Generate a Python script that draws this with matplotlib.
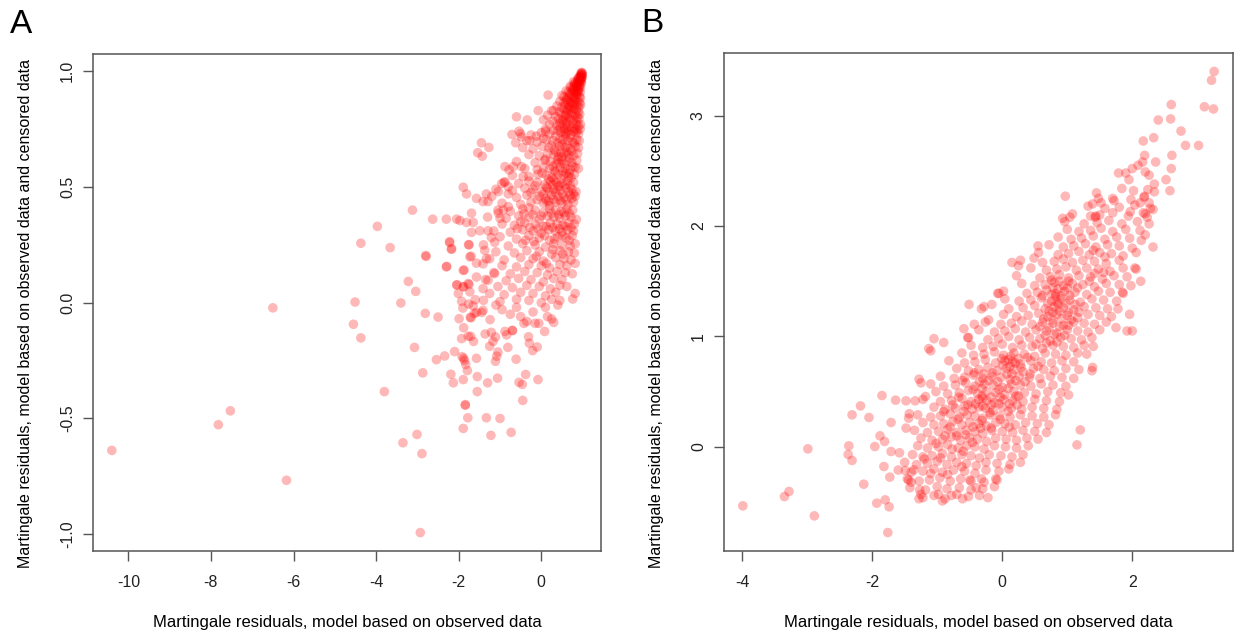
import matplotlib
matplotlib.use("Agg")
import matplotlib.pyplot as plt
import numpy as np

plt.rcParams["font.family"] = ["Liberation Sans", "DejaVu Sans"]
plt.rcParams["axes.unicode_minus"] = False

# ---- Panel A: censored vs observed-only martingale residuals ----
# isolated points on the left / bottom
a_sparse = [
    (-10.40, -0.638), (-7.82, -0.527), (-7.53, -0.467), (-6.50, -0.022), (-6.17, -0.767),
    (-4.51, 0.003), (-4.55, -0.093), (-4.37, -0.152), (-4.37, 0.257), (-3.66, 0.238),
    (-3.97, 0.330), (-3.12, 0.400), (-2.80, 0.204), (-3.22, 0.092), (-3.04, 0.049),
    (-3.40, -0.001), (-2.81, -0.046), (-2.50, -0.062), (-3.07, -0.193), (-2.29, 0.157),
    (-2.54, -0.246), (-2.34, -0.230), (-2.87, -0.303), (-3.80, -0.384), (-3.01, -0.569),
    (-3.35, -0.605), (-2.89, -0.652), (-2.93, -0.993), (-2.19, -0.309), (-2.13, -0.346),
    (-2.10, -0.211), (-1.89, -0.332), (-1.84, -0.443), (-1.84, -0.440), (-1.78, -0.497),
    (-1.89, -0.543), (-1.88, -0.240), (-1.79, -0.293), (-1.83, -0.267), (-1.93, 0.006),
    (-1.90, -0.023), (-1.99, -0.069), (-1.88, -0.108), (-1.93, -0.155), (-1.71, -0.145),
    (-1.64, -0.167), (-1.76, -0.006), (-1.70, -0.065), (-2.04, 0.078), (-1.88, 0.069),
    (-1.75, 0.079), (-1.87, 0.141), (-1.70, 0.201), (-2.17, 0.233), (-2.22, 0.260),
    (-1.76, 0.251), (-1.60, 0.013), (-1.62, -0.046), (-1.57, -0.240), (-1.55, -0.319),
    (-1.55, -0.384), (-1.57, 0.171),
    (-2.63, 0.361), (-2.30, 0.361), (-2.05, 0.361), (-1.97, 0.355), (-1.69, 0.387),
    (-1.81, 0.347), (-1.65, 0.347), (-1.49, 0.311), (-1.69, 0.304), (-2.79, 0.200),
    (-2.22, 0.264), (-2.18, 0.231), (-1.75, 0.250), (-1.29, 0.311), (-1.21, 0.282),
    (-1.13, 0.261), (-1.04, 0.387), (-1.00, 0.365), (-0.92, 0.401), (-0.80, 0.415),
    (-2.30, 0.155), (-1.89, 0.140), (-1.73, 0.198), (-1.37, 0.226), (-1.33, 0.190),
    (-1.41, 0.168), (-1.57, 0.111), (-1.29, 0.097), (-1.13, 0.126), (-2.05, 0.076),
    (-1.89, 0.069), (-1.77, 0.083), (-2.01, 0.040), (-1.73, 0.047), (-1.41, 0.061),
    (-1.45, 0.691), (-1.27, 0.671), (-1.54, 0.648), (-1.43, 0.633), (-0.71, 0.727),
    (-0.54, 0.741), (-0.48, 0.716), (-0.62, 0.691), (-0.28, 0.700), (-0.12, 0.720),
    (-0.88, 0.588), (-0.78, 0.574), (-0.68, 0.588), (-0.48, 0.588), (-0.44, 0.545),
    (-1.89, 0.499), (-1.81, 0.470), (-1.57, 0.451), (-1.33, 0.470), (-1.29, 0.437),
    (-1.41, 0.437), (-1.04, 0.480), (-0.96, 0.515), (-0.88, 0.522), (-0.80, 0.501),
    (0.165, 0.897), (-0.60, 0.803), (-0.34, 0.790), (-0.075, 0.830),
]

# negative residuals near the main cloud
a_neg = [
    (-1.92, -0.233), (-1.86, -0.250), (-1.33, -0.497), (-1.00, -0.500), (-1.22, -0.573),
    (-0.73, -0.560), (-1.30, -0.346), (-1.06, -0.326), (-0.54, -0.344), (-0.46, -0.353),
    (-0.38, -0.310), (-0.08, -0.332), (-0.45, -0.422), (-0.61, -0.244), (-0.21, -0.207),
    (-0.10, -0.191), (-0.29, -0.175), (-0.31, -0.147), (0.08, -0.124), (-0.81, -0.193),
    (-1.11, -0.253), (-1.08, -0.231), (-1.05, -0.213), (-1.25, -0.188), (-1.17, -0.167),
    (-1.11, -0.148), (-1.21, -0.128), (-1.36, -0.135), (-1.77, -0.145), (-1.72, -0.063),
    (-1.24, -0.073), (-0.88, -0.124), (-0.70, -0.119), (-0.70, -0.121), (-0.84, -0.139),
    (-0.42, -0.089), (-0.35, -0.081), (-0.15, -0.089), (-0.06, -0.089), (0.30, -0.085),
    (0.25, -0.070), (0.76, 0.016), (-1.65, -0.013), (-1.57, -0.042), (-1.44, -0.042),
    (-1.41, -0.033), (-0.95, -0.030), (-0.60, -0.020), (-0.20, -0.040), (0.10, -0.020),
    (0.40, -0.010), (-1.10, -0.010), (-0.75, -0.050), (0.15, -0.060), (-0.50, -0.060),
]

# lower part of the main cloud, 0 < y < 0.3
a_low = [
    (-1.00, 0.285), (-0.60, 0.275), (-0.30, 0.29), (-0.05, 0.28), (0.20, 0.27), (0.40, 0.285),
    (0.60, 0.28), (0.75, 0.29), (-1.40, 0.25), (-0.80, 0.245), (-0.45, 0.255), (-0.15, 0.25),
    (0.10, 0.24), (0.30, 0.255), (0.50, 0.25), (0.70, 0.245), (0.82, 0.255), (-1.10, 0.22),
    (-0.65, 0.215), (-0.35, 0.225), (-0.05, 0.22), (0.25, 0.21), (0.45, 0.225), (0.66, 0.22),
    (0.80, 0.215), (-1.25, 0.19), (-0.90, 0.185), (-0.50, 0.195), (-0.20, 0.19), (0.05, 0.18),
    (0.35, 0.195), (0.55, 0.19), (0.72, 0.185), (-0.95, 0.16), (-0.60, 0.155), (-0.30, 0.165),
    (0.00, 0.16), (0.20, 0.15), (0.45, 0.165), (0.62, 0.16), (0.82, 0.17), (-1.15, 0.13),
    (-0.75, 0.125), (-0.40, 0.135), (-0.10, 0.13), (0.15, 0.12), (0.38, 0.135), (0.58, 0.13),
    (0.75, 0.125), (-1.35, 0.10), (-0.85, 0.095), (-0.55, 0.105), (-0.25, 0.10), (0.05, 0.09),
    (0.30, 0.105), (0.50, 0.10), (-1.05, 0.07), (-0.70, 0.065), (-0.35, 0.075), (-0.05, 0.07),
    (0.22, 0.06), (0.45, 0.075), (0.62, 0.07), (-1.25, 0.04), (-0.90, 0.035), (-0.50, 0.045),
    (-0.20, 0.04), (0.10, 0.03), (0.35, 0.045), (0.82, 0.04), (-1.40, 0.01), (-1.00, 0.005),
    (-0.60, 0.015), (-0.30, 0.01), (0.00, 0.00), (0.25, 0.015), (0.45, 0.01),
]

# middle of the cloud, 0.3 < y < 0.56
a_mid = [
    (-1.15, 0.31), (-0.75, 0.305), (-0.45, 0.315), (-0.20, 0.31), (0.00, 0.30), (0.18, 0.315),
    (0.34, 0.31), (0.50, 0.305), (0.64, 0.315), (0.78, 0.31), (-0.95, 0.34), (-0.65, 0.335),
    (-0.40, 0.345), (-0.15, 0.34), (0.05, 0.33), (0.22, 0.345), (0.38, 0.34), (0.52, 0.335),
    (0.66, 0.345), (0.80, 0.34), (-0.50, 0.35), (-1.30, 0.37), (-0.85, 0.365), (-0.55, 0.375),
    (-0.30, 0.37), (-0.05, 0.36), (0.15, 0.375), (0.30, 0.37), (0.45, 0.365), (0.58, 0.375),
    (0.72, 0.37), (0.85, 0.36), (-1.05, 0.40), (-0.75, 0.395), (-0.45, 0.405), (-0.15, 0.40),
    (0.05, 0.39), (0.20, 0.405), (0.35, 0.40), (0.48, 0.395), (0.62, 0.405), (0.76, 0.40),
    (-0.30, 0.41), (-0.95, 0.43), (-0.50, 0.425), (-0.25, 0.435), (0.05, 0.43), (0.20, 0.42),
    (0.35, 0.435), (0.50, 0.43), (0.65, 0.425), (0.78, 0.435), (0.12, 0.44), (-1.20, 0.46),
    (-0.60, 0.455), (-0.35, 0.465), (-0.05, 0.46), (0.10, 0.45), (0.25, 0.465), (0.40, 0.46),
    (0.55, 0.455), (0.70, 0.465), (0.82, 0.46), (-0.80, 0.47), (-1.10, 0.49), (-0.70, 0.485),
    (-0.40, 0.495), (-0.20, 0.49), (0.00, 0.48), (0.15, 0.495), (0.30, 0.49), (0.45, 0.485),
    (0.60, 0.495), (0.74, 0.49), (0.84, 0.48), (0.40, 0.50), (-0.90, 0.52), (-0.55, 0.515),
    (-0.30, 0.525), (-0.10, 0.52), (0.08, 0.51), (0.22, 0.525), (0.36, 0.52), (0.50, 0.515),
    (0.64, 0.525), (0.78, 0.52), (0.30, 0.53), (-0.70, 0.55), (-0.30, 0.545), (-0.08, 0.555),
    (0.12, 0.55), (0.26, 0.54), (0.40, 0.555), (0.54, 0.55), (0.66, 0.545), (0.80, 0.555),
    (0.02, 0.56), (0.60, 0.56),
]

# extra observations filling the darker band of the cloud
a_dense = [
    (-0.12, 0.20), (0.12, 0.17), (0.28, 0.23), (0.52, 0.21), (-0.38, 0.27), (-0.18, 0.265),
    (0.08, 0.29), (0.32, 0.275), (0.52, 0.29), (0.68, 0.27), (-0.58, 0.32), (-0.28, 0.325),
    (-0.08, 0.32), (0.12, 0.33), (0.28, 0.325), (0.44, 0.32), (0.58, 0.33), (0.72, 0.325),
    (-0.42, 0.385), (-0.20, 0.38), (0.00, 0.375), (0.25, 0.385), (0.42, 0.38), (0.55, 0.39),
    (0.68, 0.385), (-0.10, 0.445), (0.18, 0.44), (0.30, 0.445), (0.46, 0.44), (0.60, 0.445),
    (0.74, 0.45), (-0.25, 0.475), (0.05, 0.47), (0.20, 0.48), (0.35, 0.475), (0.52, 0.47),
    (0.66, 0.48), (0.78, 0.47), (-0.15, 0.505), (0.12, 0.50), (0.28, 0.51), (0.44, 0.505),
    (0.58, 0.51), (0.70, 0.505), (0.18, 0.535), (0.48, 0.535), (0.72, 0.54), (0.34, 0.565),
    (0.52, 0.57), (0.68, 0.56), (0.76, 0.59), (0.56, 0.60), (0.42, 0.605), (0.68, 0.625),
    (0.50, 0.63), (0.36, 0.65), (0.74, 0.655), (0.62, 0.68), (0.50, 0.685), (0.80, 0.69),
    (0.70, 0.715), (0.58, 0.72), (0.40, 0.745), (0.78, 0.74),
]

# upper part, 0.56 < y < 0.75
a_upper = [
    (-0.40, 0.58), (-0.10, 0.575), (0.05, 0.585), (0.20, 0.58), (0.32, 0.57), (0.46, 0.585),
    (0.58, 0.58), (0.70, 0.575), (0.82, 0.585), (0.28, 0.59), (0.90, 0.58), (-0.60, 0.61),
    (-0.15, 0.605), (0.08, 0.615), (0.22, 0.61), (0.36, 0.60), (0.50, 0.615), (0.62, 0.61),
    (0.74, 0.605), (0.86, 0.615), (0.10, 0.62), (0.40, 0.62), (-0.30, 0.64), (-0.05, 0.635),
    (0.15, 0.645), (0.30, 0.64), (0.42, 0.63), (0.55, 0.645), (0.66, 0.64), (0.78, 0.635),
    (0.88, 0.645), (0.48, 0.65), (0.62, 0.65), (-0.45, 0.67), (-0.20, 0.665), (0.02, 0.675),
    (0.18, 0.67), (0.32, 0.66), (0.44, 0.675), (0.58, 0.67), (0.70, 0.665), (0.82, 0.675),
    (0.90, 0.67), (0.25, 0.68), (-0.35, 0.70), (-0.10, 0.695), (0.12, 0.705), (0.28, 0.70),
    (0.40, 0.69), (0.52, 0.705), (0.64, 0.70), (0.76, 0.695), (0.86, 0.705), (0.92, 0.70),
    (0.45, 0.71), (0.05, 0.71), (-0.50, 0.73), (-0.25, 0.725), (0.00, 0.735), (0.20, 0.73),
    (0.35, 0.72), (0.48, 0.735), (0.60, 0.73), (0.72, 0.725), (0.84, 0.735), (0.90, 0.73),
    (0.10, 0.74), (0.55, 0.74),
]

# dense wedge towards (1, 1)
a_core = [
    (0.97, 0.995), (0.98, 0.99), (0.99, 0.993), (0.99, 0.985), (0.98, 0.98), (0.96, 0.99),
    (0.97, 0.985), (0.99, 0.975), (0.95, 0.98),
    (0.90, 0.97), (0.92, 0.965), (0.94, 0.975), (0.96, 0.97), (0.97, 0.96), (0.93, 0.96),
    (0.95, 0.965), (0.98, 0.97), (0.91, 0.975), (0.88, 0.965),
    (0.82, 0.95), (0.85, 0.945), (0.88, 0.955), (0.90, 0.95), (0.93, 0.94), (0.95, 0.955),
    (0.97, 0.95), (0.87, 0.94), (0.91, 0.955), (0.80, 0.945), (0.78, 0.955),
    (0.72, 0.93), (0.76, 0.925), (0.80, 0.935), (0.84, 0.93), (0.88, 0.92), (0.92, 0.935),
    (0.95, 0.93), (0.86, 0.935), (0.90, 0.925), (0.70, 0.935), (0.78, 0.92),
    (0.65, 0.91), (0.70, 0.905), (0.75, 0.915), (0.80, 0.91), (0.85, 0.90), (0.90, 0.915),
    (0.94, 0.91), (0.83, 0.905), (0.60, 0.915), (0.88, 0.91),
    (0.55, 0.89), (0.62, 0.885), (0.68, 0.895), (0.74, 0.89), (0.80, 0.88), (0.86, 0.895),
    (0.92, 0.89), (0.78, 0.885), (0.50, 0.895), (0.95, 0.885),
    (0.45, 0.87), (0.55, 0.865), (0.64, 0.875), (0.70, 0.87), (0.76, 0.86), (0.82, 0.875),
    (0.88, 0.87), (0.93, 0.865), (0.60, 0.875), (0.72, 0.865),
    (0.38, 0.85), (0.50, 0.845), (0.58, 0.855), (0.66, 0.85), (0.74, 0.84), (0.80, 0.855),
    (0.86, 0.85), (0.91, 0.845), (0.95, 0.855), (0.69, 0.845),
    (0.30, 0.83), (0.44, 0.825), (0.55, 0.835), (0.62, 0.83), (0.70, 0.82), (0.78, 0.835),
    (0.84, 0.83), (0.90, 0.825), (0.65, 0.835), (0.25, 0.83),
    (0.15, 0.81), (0.35, 0.805), (0.48, 0.815), (0.58, 0.81), (0.66, 0.80), (0.74, 0.815),
    (0.82, 0.81), (0.88, 0.805), (0.93, 0.815), (0.60, 0.81),
    (0.05, 0.79), (0.28, 0.785), (0.42, 0.795), (0.52, 0.79), (0.62, 0.78), (0.70, 0.795),
    (0.78, 0.79), (0.86, 0.785), (0.91, 0.795), (0.55, 0.79),
    (0.20, 0.77), (0.38, 0.765), (0.50, 0.775), (0.60, 0.77), (0.68, 0.76), (0.76, 0.775),
    (0.84, 0.77), (0.90, 0.765), (0.45, 0.775), (0.95, 0.77),
    (0.10, 0.75), (0.30, 0.745), (0.45, 0.755), (0.56, 0.75), (0.65, 0.74), (0.74, 0.755),
    (0.82, 0.75), (0.88, 0.745), (0.62, 0.755), (0.94, 0.75),
]

# ---- Panel B: uncensored-model residuals ----
b_sparse = [
    (-3.99, -0.534), (-3.35, -0.450), (-3.28, -0.404), (-2.89, -0.625), (-2.99, -0.018),
    (-2.36, 0.009), (-2.37, -0.069), (-2.31, -0.123), (-2.13, -0.338), (-2.31, 0.290),
    (-2.18, 0.371), (-2.05, 0.266), (-1.85, 0.465), (-1.96, 0.003), (-1.88, 0.100),
    (-1.81, 0.049), (-1.71, 0.221), (-1.71, -0.042), (-1.82, -0.178), (-1.73, -0.274),
    (-1.93, -0.510), (-1.80, -0.480), (-1.74, -0.543), (-1.76, -0.776), (-1.64, 0.423),
    (-1.48, 0.417), (-1.34, 0.417), (-1.18, 0.456), (-1.58, -0.054), (-1.49, -0.214),
    (-1.36, -0.208), (-1.43, 0.300), (-1.44, 0.260), (-1.48, 0.170), (-1.44, -0.300),
    (-1.40, -0.320), (-1.27, -0.390), (-1.25, -0.430), (-1.28, -0.470), (-0.98, -0.430),
    (-0.92, -0.490), (-0.78, -0.440), (-0.61, -0.470), (-0.48, -0.310), (-0.40, -0.370),
    (-0.32, -0.290), (-0.08, -0.300), (1.20, 0.154), (1.15, 0.018), (1.38, 0.690),
    (-1.28, 0.613), (-1.25, 0.580), (-1.13, 0.890), (-1.05, 0.980), (-0.90, 0.945),
    (-1.10, 0.870), (-0.59, 1.070), (-0.53, 0.990), (-0.51, 1.290), (-0.43, 1.110),
    (-0.32, 1.250), (-0.21, 1.150), (-0.16, 1.290), (-0.05, 1.390),
    (3.26, 3.40), (3.22, 3.32), (3.11, 3.08), (3.25, 3.06), (2.60, 3.10), (2.59, 2.97),
    (2.40, 2.96), (2.75, 2.86), (2.82, 2.73), (3.02, 2.73), (2.17, 2.77), (2.33, 2.80),
    (2.19, 2.64), (2.36, 2.58), (2.61, 2.64), (2.60, 2.52), (2.52, 2.42), (2.58, 2.32),
    (1.79, 2.48), (1.90, 2.48), (2.00, 2.52), (2.09, 2.55), (2.16, 2.58), (1.95, 2.42),
    (2.20, 2.49), (2.26, 2.46), (2.34, 2.38), (2.34, 2.31), (2.19, 2.27), (2.26, 2.21),
    (2.12, 2.21), (1.97, 2.13), (2.17, 2.12), (2.23, 2.08), (2.32, 2.15), (1.70, 2.25),
    (1.43, 2.08), (1.44, 2.09), (1.45, 2.30), (1.39, 2.20), (1.52, 2.21), (0.97, 2.27),
    (0.93, 2.07), (1.04, 2.08), (0.55, 1.82), (0.15, 1.67), (0.25, 1.64), (0.49, 1.71),
    (-0.07, 1.39), (2.00, 1.05), (2.13, 1.50), (1.96, 1.20), (1.39, 0.72), (2.04, 1.62),
    (2.20, 1.92), (2.32, 1.81), (2.26, 2.02), (1.85, 1.40), (1.78, 1.25), (1.75, 1.08),
]

b_lower = [
    (-1.22, -0.46), (-1.05, -0.44), (-0.88, -0.47), (-0.70, -0.43), (-0.52, -0.45), (-0.35, -0.44),
    (-0.22, -0.46), (-1.42, -0.37), (-1.18, -0.39), (-1.00, -0.36), (-0.85, -0.38), (-0.66, -0.37),
    (-0.48, -0.39), (-0.30, -0.38), (-0.12, -0.36), (-1.46, -0.29), (-1.28, -0.31), (-1.12, -0.30),
    (-0.96, -0.28), (-0.80, -0.31), (-0.64, -0.29), (-0.50, -0.30), (-0.28, -0.32), (-0.10, -0.29),
    (-1.60, -0.21), (-1.40, -0.23), (-1.22, -0.22), (-1.05, -0.20), (-0.92, -0.23), (-0.75, -0.21),
    (-0.58, -0.22), (-0.42, -0.24), (-0.25, -0.21), (-0.05, -0.22), (0.10, -0.20), (-1.50, -0.14),
    (-1.32, -0.16), (-1.15, -0.15), (-1.00, -0.13), (-0.85, -0.16), (-0.70, -0.14), (-0.55, -0.15),
    (-0.40, -0.17), (-0.25, -0.14), (-0.08, -0.15), (0.12, -0.16), (0.28, -0.14), (-1.38, -0.07),
    (-1.22, -0.09), (-1.08, -0.08), (-0.92, -0.06), (-0.78, -0.09), (-0.62, -0.07), (-0.48, -0.08),
    (-0.35, -0.10), (-0.20, -0.07), (-0.02, -0.08), (0.15, -0.09), (0.32, -0.07), (-1.30, 0.01),
    (-1.15, -0.01), (-0.98, 0.00), (-0.84, 0.02), (-0.68, -0.01), (-0.55, 0.01), (-0.42, 0.00),
    (-0.28, -0.02), (-0.12, 0.01), (0.05, 0.00), (0.22, -0.01), (0.40, 0.01), (-1.25, 0.08),
    (-1.08, 0.06), (-0.92, 0.07), (-0.78, 0.09), (-0.64, 0.06), (-0.50, 0.08), (-0.38, 0.07),
    (-0.24, 0.05), (-0.10, 0.08), (0.06, 0.07), (0.22, 0.06), (0.38, 0.08), (0.55, 0.07),
    (-1.35, 0.15), (-1.15, 0.13), (-0.98, 0.14), (-0.84, 0.16), (-0.70, 0.13), (-0.56, 0.15),
    (-0.42, 0.14), (-0.30, 0.12), (-0.16, 0.15), (0.00, 0.14), (0.16, 0.13), (0.32, 0.15),
    (0.50, 0.14), (0.68, 0.13), (-1.22, 0.22), (-1.05, 0.20), (-0.90, 0.21), (-0.76, 0.23),
    (-0.62, 0.20), (-0.50, 0.22), (-0.36, 0.21), (-0.24, 0.19), (-0.10, 0.22), (0.04, 0.21),
    (0.20, 0.20), (0.36, 0.22), (0.54, 0.21), (0.72, 0.20), (-1.30, 0.29), (-1.10, 0.27),
    (-0.95, 0.28), (-0.80, 0.30), (-0.66, 0.27), (-0.54, 0.29), (-0.42, 0.28), (-0.30, 0.26),
    (-0.18, 0.29), (-0.04, 0.28), (0.12, 0.27), (0.28, 0.29), (0.46, 0.28), (0.64, 0.27),
    (0.82, 0.29),
]

b_middle = [
    (-1.05, 0.36), (-0.88, 0.34), (-0.72, 0.35), (-0.58, 0.37), (-0.46, 0.34), (-0.36, 0.36),
    (-0.26, 0.35), (-0.14, 0.33), (0.00, 0.36), (0.14, 0.35), (0.30, 0.34), (0.46, 0.36),
    (0.64, 0.35), (0.84, 0.34), (-0.30, 0.37), (-1.22, 0.43), (-0.95, 0.41), (-0.78, 0.42),
    (-0.62, 0.44), (-0.48, 0.41), (-0.36, 0.43), (-0.24, 0.42), (-0.12, 0.40), (0.02, 0.43),
    (0.16, 0.42), (0.32, 0.41), (0.50, 0.43), (0.68, 0.42), (0.88, 0.41), (-0.30, 0.44),
    (-1.02, 0.50), (-0.84, 0.48), (-0.66, 0.49), (-0.52, 0.51), (-0.38, 0.48), (-0.24, 0.50),
    (-0.10, 0.49), (0.04, 0.47), (0.18, 0.50), (0.34, 0.49), (0.52, 0.48), (0.70, 0.50),
    (0.90, 0.49), (1.02, 0.47), (-1.10, 0.57), (-0.90, 0.55), (-0.72, 0.56), (-0.56, 0.58),
    (-0.42, 0.55), (-0.28, 0.57), (-0.14, 0.56), (0.00, 0.54), (0.14, 0.57), (0.28, 0.56),
    (0.44, 0.55), (0.60, 0.57), (0.78, 0.56), (0.98, 0.55), (-0.95, 0.64), (-0.74, 0.62),
    (-0.58, 0.63), (-0.44, 0.65), (-0.30, 0.62), (-0.16, 0.64), (-0.02, 0.63), (0.12, 0.61),
    (0.26, 0.64), (0.42, 0.63), (0.58, 0.62), (0.74, 0.64), (0.92, 0.63), (1.10, 0.62),
    (-0.70, 0.71), (-0.52, 0.69), (-0.36, 0.70), (-0.22, 0.72), (-0.08, 0.69), (0.06, 0.71),
    (0.18, 0.70), (0.32, 0.68), (0.48, 0.71), (0.64, 0.70), (0.80, 0.69), (0.98, 0.71),
    (1.18, 0.70), (0.12, 0.73), (-0.82, 0.78), (-0.58, 0.76), (-0.42, 0.77), (-0.26, 0.79),
    (-0.10, 0.76), (0.04, 0.78), (0.16, 0.77), (0.28, 0.75), (0.44, 0.78), (0.60, 0.77),
    (0.76, 0.76), (0.92, 0.78), (1.10, 0.77), (0.10, 0.79), (0.20, 0.76), (-0.62, 0.85),
    (-0.44, 0.83), (-0.28, 0.84), (-0.12, 0.86), (0.02, 0.83), (0.18, 0.85), (0.34, 0.84),
    (0.50, 0.82), (0.66, 0.85), (0.82, 0.84), (0.98, 0.83), (1.16, 0.85), (1.30, 0.84),
    (-0.48, 0.92), (-0.30, 0.90), (-0.14, 0.91), (0.00, 0.93), (0.16, 0.90), (0.30, 0.92),
    (0.46, 0.91), (0.62, 0.89), (0.78, 0.92), (0.94, 0.91), (1.10, 0.90), (1.26, 0.92),
    (1.40, 0.91), (-0.52, 0.99), (-0.22, 0.97), (-0.06, 0.98), (0.10, 1.00), (0.26, 0.97),
    (0.42, 0.99), (0.58, 0.98), (0.74, 0.96), (0.90, 0.99), (1.06, 0.98), (1.22, 0.97),
    (1.38, 0.99),
]

b_upper = [
    (-0.36, 1.06), (-0.12, 1.04), (0.04, 1.05), (0.20, 1.07), (0.36, 1.04), (0.52, 1.06),
    (0.68, 1.05), (0.84, 1.03), (1.00, 1.06), (1.16, 1.05), (1.32, 1.04), (1.50, 1.06),
    (1.92, 1.05), (-0.26, 1.13), (-0.02, 1.11), (0.14, 1.12), (0.30, 1.14), (0.46, 1.11),
    (0.62, 1.13), (0.78, 1.12), (0.94, 1.10), (1.10, 1.13), (1.26, 1.12), (1.42, 1.11),
    (1.60, 1.13), (0.02, 1.20), (0.22, 1.18), (0.40, 1.19), (0.56, 1.21), (0.70, 1.18),
    (0.84, 1.20), (1.00, 1.19), (1.16, 1.17), (1.32, 1.20), (1.50, 1.19), (1.68, 1.18),
    (0.78, 1.22), (-0.28, 1.27), (0.10, 1.25), (0.32, 1.26), (0.50, 1.28), (0.66, 1.25),
    (0.80, 1.27), (0.94, 1.26), (1.10, 1.24), (1.26, 1.27), (1.44, 1.26), (1.62, 1.25),
    (0.86, 1.29), (0.04, 1.34), (0.26, 1.32), (0.44, 1.33), (0.60, 1.35), (0.76, 1.32),
    (0.90, 1.34), (1.04, 1.33), (1.20, 1.31), (1.38, 1.34), (1.56, 1.33), (1.76, 1.32),
    (0.82, 1.36), (0.02, 1.41), (0.38, 1.39), (0.54, 1.40), (0.68, 1.42), (0.82, 1.39),
    (0.96, 1.41), (1.12, 1.40), (1.30, 1.38), (1.48, 1.41), (1.66, 1.40), (1.86, 1.39),
    (0.78, 1.44), (0.30, 1.48), (0.50, 1.46), (0.66, 1.47), (0.80, 1.49), (0.94, 1.46),
    (1.08, 1.48), (1.24, 1.47), (1.42, 1.45), (1.60, 1.48), (1.80, 1.47), (1.98, 1.46),
    (0.76, 1.51), (0.22, 1.55), (0.58, 1.53), (0.74, 1.54), (0.88, 1.56), (1.02, 1.53),
    (1.18, 1.55), (1.36, 1.54), (1.54, 1.52), (1.72, 1.55), (1.92, 1.54), (0.44, 1.62),
    (0.68, 1.60), (0.84, 1.61), (0.98, 1.63), (1.14, 1.60), (1.30, 1.62), (1.48, 1.61),
    (1.66, 1.59), (1.86, 1.62), (2.06, 1.61), (0.28, 1.69), (0.62, 1.67), (0.80, 1.68),
    (0.94, 1.70), (1.08, 1.67), (1.24, 1.69), (1.42, 1.68), (1.60, 1.66), (1.80, 1.69),
    (0.56, 1.76), (0.86, 1.74), (1.02, 1.75), (1.18, 1.77), (1.34, 1.74), (1.50, 1.76),
    (1.68, 1.75), (1.86, 1.73), (2.06, 1.76), (0.72, 1.83), (0.94, 1.81), (1.10, 1.82),
    (1.28, 1.84), (1.44, 1.81), (1.62, 1.83), (1.80, 1.82), (2.00, 1.80), (0.86, 1.90),
    (1.06, 1.88), (1.22, 1.89), (1.40, 1.91), (1.58, 1.88), (1.76, 1.90), (1.96, 1.89),
    (2.14, 1.87), (1.00, 1.97), (1.18, 1.95), (1.36, 1.96), (1.52, 1.98), (1.70, 1.95),
    (1.90, 1.97), (2.12, 1.96), (0.96, 2.04), (1.26, 2.02), (1.46, 2.03), (1.64, 2.05),
    (1.84, 2.02), (2.08, 2.04), (1.08, 2.11), (1.36, 2.09), (1.50, 2.10), (1.70, 2.12),
    (1.94, 2.09), (2.20, 2.11), (1.32, 2.18), (1.58, 2.16), (1.80, 2.17), (2.04, 2.19),
    (2.28, 2.16), (1.48, 2.25), (1.72, 2.23), (1.98, 2.24), (2.18, 2.26), (1.84, 2.34),
    (2.02, 2.32), (2.24, 2.33),
]

# extra observations in the two denser clumps of panel B
b_dense = [
    (-0.45, 0.18), (-0.31, 0.24), (-0.17, 0.17), (-0.03, 0.25), (0.11, 0.18), (-0.59, 0.32),
    (-0.41, 0.39), (-0.19, 0.31), (-0.05, 0.39), (0.09, 0.32), (0.23, 0.38), (-0.67, 0.45),
    (-0.53, 0.38), (-0.31, 0.46), (-0.17, 0.38), (-0.03, 0.45), (0.11, 0.39), (0.25, 0.46),
    (-0.45, 0.52), (-0.31, 0.53), (-0.17, 0.45), (-0.05, 0.52), (0.09, 0.53), (0.21, 0.46),
    (-0.61, 0.60), (-0.35, 0.59), (-0.21, 0.60), (-0.07, 0.59), (0.07, 0.66), (0.21, 0.60),
    (0.35, 0.59), (-0.43, 0.67), (-0.29, 0.66), (-0.15, 0.67), (0.01, 0.74), (0.15, 0.66),
    (0.29, 0.72), (0.43, 0.66), (-0.01, 0.80), (0.13, 0.82), (0.25, 0.80), (0.39, 0.81),
    (0.55, 0.73),
    (0.52, 0.93), (0.68, 0.94), (0.84, 0.95), (0.66, 1.01), (0.80, 1.02), (0.96, 1.01),
    (0.58, 1.09), (0.72, 1.08), (0.88, 1.09), (1.02, 1.10), (0.64, 1.16), (0.78, 1.15),
    (0.92, 1.16), (1.06, 1.15), (0.72, 1.23), (0.88, 1.23), (1.02, 1.22), (1.18, 1.22),
    (0.70, 1.30), (0.84, 1.31), (0.98, 1.30), (1.12, 1.29), (0.62, 1.37), (0.76, 1.38),
    (0.90, 1.37), (1.04, 1.37), (0.86, 1.43), (1.00, 1.44), (1.16, 1.44), (0.88, 1.50),
    (1.02, 1.50), (1.34, 1.50), (1.42, 1.57), (1.56, 1.58), (1.58, 1.72), (1.40, 1.78),
    (-1.10, -0.24), (-0.84, -0.25), (-0.62, -0.18), (-1.20, -0.11), (-0.95, -0.10),
    (-0.77, -0.02), (-0.60, -0.04), (-0.46, 0.04), (-1.02, 0.03), (-0.88, 0.10),
    (-0.70, 0.10), (-0.56, 0.11), (-0.33, 0.17), (-0.80, 0.18), (-0.68, 0.25),
    (-0.90, 0.32), (-0.76, 0.38),
]

a_ticks_x = [-10, -8, -6, -4, -2, 0]
a_ticks_y = [-1.0, -0.5, 0.0, 0.5, 1.0]
a_labels_y = ["-1.0", "-0.5", "0.0", "0.5", "1.0"]
b_ticks_x = [-4, -2, 0, 2]
b_ticks_y = [0, 1, 2, 3]

xlab = "Martingale residuals, model based on observed data"
ylab = "Martingale residuals, model based on observed data and censored data"

W, H = 1238, 636
fig = plt.figure(figsize=(W / 100, H / 100), dpi=100)
fig.patch.set_facecolor("white")

ax_a = fig.add_axes([93 / W, 1 - 551 / H, 508 / W, 497 / H])
ax_b = fig.add_axes([724 / W, 1 - 551 / H, 509 / W, 498 / H])


def draw_panel(ax, groups, xt, yt, ylabels=None):
    pts = np.array([p for g in groups for p in g])
    ax.scatter(pts[:, 0], pts[:, 1], s=48, color="#ff0000", alpha=0.28,
               edgecolors="none")
    # R-style 4% padding around the data range
    xr = np.ptp(pts[:, 0])
    yr = np.ptp(pts[:, 1])
    ax.set_xlim(pts[:, 0].min() - 0.04 * xr, pts[:, 0].max() + 0.04 * xr)
    ax.set_ylim(pts[:, 1].min() - 0.04 * yr, pts[:, 1].max() + 0.04 * yr)
    ax.set_xticks(xt)
    ax.set_xticklabels([str(t) for t in xt])
    ax.set_yticks(yt)
    ax.set_yticklabels(ylabels if ylabels else [str(t) for t in yt])
    for s in ax.spines.values():
        s.set_color("#555555")
        s.set_linewidth(1.1)
    ax.tick_params(axis="both", direction="out", length=7, width=1.0,
                   color="#555555", labelsize=11.5, labelcolor="#222222")
    ax.tick_params(axis="x", pad=10)
    ax.tick_params(axis="y", pad=6)
    for lab in ax.get_yticklabels():
        lab.set_rotation(90)
        lab.set_va("center")
    ax.set_xlabel(xlab, fontsize=12)
    ax.set_ylabel(ylab, fontsize=11.5)
    ax.xaxis.set_label_coords(0.5, -0.128)
    ax.yaxis.set_label_coords(-0.118, 0.477)


draw_panel(ax_a, [a_sparse, a_neg, a_low, a_mid, a_dense, a_upper, a_core],
           a_ticks_x, a_ticks_y, a_labels_y)
draw_panel(ax_b, [b_sparse, b_lower, b_middle, b_upper, b_dense],
           b_ticks_x, b_ticks_y)

fig.text(10 / W, 1 - 33 / H, "A", fontsize=24, ha="left", va="baseline")
fig.text(641 / W, 1 - 32 / H, "B", fontsize=24, ha="left", va="baseline")

fig.savefig("out.png", dpi=100, facecolor="white")
